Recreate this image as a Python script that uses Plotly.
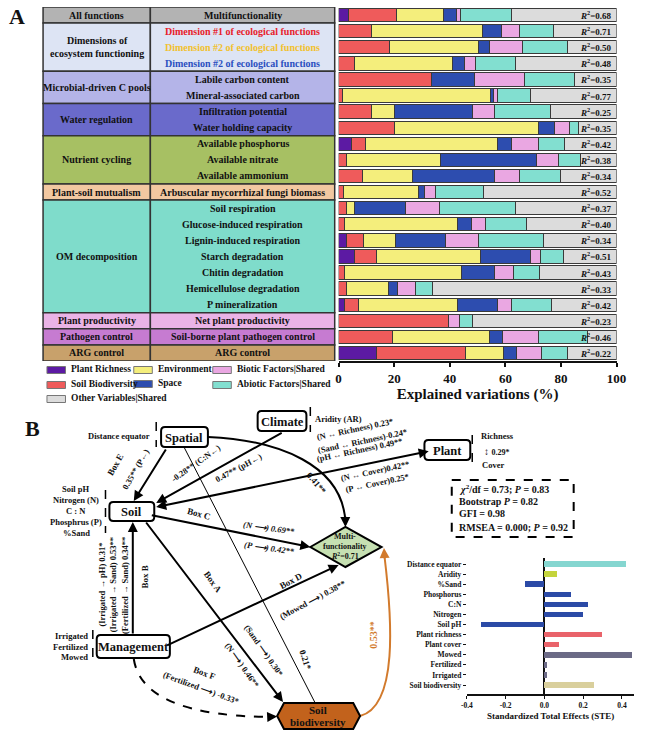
import plotly.graph_objects as go

W, H = 650, 733
FONT = "Liberation Serif"

# ---------------- Panel A data ----------------
functions = ["Multifunctionality", "Dimension #1 of ecological functions",
             "Dimension #2 of ecological functions", "Dimension #2 of ecological functions",
             "Labile carbon content", "Mineral-associated carbon",
             "Infiltration potential", "Water holding capacity",
             "Available phosphorus", "Available nitrate", "Available ammonium",
             "Arbuscular mycorrhizal fungi biomass",
             "Soil respiration", "Glucose-induced respiration", "Lignin-induced respiration",
             "Starch degradation", "Chitin degradation", "Hemicellulose degradation",
             "P mineralization", "Net plant productivity",
             "Soil-borne plant pathogen control", "ARG control"]
function_text_colors = ["#111111", "#e8202a", "#f2c12e", "#2a4fc0"] + ["#111111"] * 18

plant_richness = [3.4, 0, 0, 0, 0, 0, 0, 0, 4.7, 0, 0, 0, 0, 0, 2.9, 5.7, 0, 0, 2.3, 0, 0, 13.7]
soil_biodiversity = [17.5, 11.9, 18.2, 5.7, 33.3, 1.4, 11.9, 20.1, 4.9, 2.7, 8.7, 1.8, 2.9, 2.3, 5.9, 8.0, 2.0, 2.9, 4.7, 39.4, 19.5, 32.1]
environment = [16.8, 39.8, 32.0, 35.2, 0, 53.2, 8.2, 51.7, 47.6, 34.1, 17.8, 27.1, 2.9, 40.4, 11.7, 37.4, 42.3, 15.2, 35.9, 0, 34.9, 13.5]
space = [4.8, 7.0, 4.0, 4.4, 15.5, 1.3, 28.1, 5.9, 5.1, 34.5, 29.6, 2.0, 18.4, 5.0, 18.0, 17.9, 11.7, 3.2, 14.4, 0, 4.7, 4.7]
biotic_shared = [1.5, 6.2, 12.0, 4.1, 18.1, 1.4, 7.9, 5.3, 9.6, 7.9, 8.8, 3.8, 12.1, 5.0, 11.7, 3.7, 7.0, 6.2, 4.9, 4.1, 12.8, 9.0]
abiotic_shared = [18.3, 12.5, 16.3, 14.3, 18.1, 11.7, 20.3, 3.2, 9.4, 7.9, 14.9, 17.3, 27.4, 15.0, 23.5, 8.2, 9.4, 6.1, 14.4, 4.7, 17.5, 9.3]
other_shared = [37.7, 22.6, 17.5, 36.3, 15.0, 31.0, 23.6, 13.8, 18.7, 12.9, 20.2, 48.0, 36.3, 32.3, 26.3, 19.1, 27.6, 66.4, 23.4, 51.8, 10.6, 17.7]
r_squared = ["0.68", "0.71", "0.50", "0.48", "0.35", "0.77", "0.25", "0.35", "0.42", "0.38", "0.34",
             "0.52", "0.37", "0.40", "0.34", "0.51", "0.43", "0.33", "0.42", "0.23", "0.46", "0.22"]

# groups: (left label, first row, last row, fill colour)
groups = [("All functions", 0, 0, "#b3b3b3"),
          ("Dimensions of<br>ecosystem functioning", 1, 3, "#dde4f4"),
          ("Microbial-driven C pools", 4, 5, "#b4b4e8"),
          ("Water regulation", 6, 7, "#6a6acb"),
          ("Nutrient cycling", 8, 10, "#a7c063"),
          ("Plant-soil mutualism", 11, 11, "#f2c8a1"),
          ("OM decomposition", 12, 18, "#7fdccb"),
          ("Plant productivity", 19, 19, "#eab3e6"),
          ("Pathogen control", 20, 20, "#c67bd1"),
          ("ARG control", 21, 21, "#c8a16b")]

series = [("Plant Richness", plant_richness, "#5c1aa3"),
          ("Soil Biodiversity", soil_biodiversity, "#ef5b5b"),
          ("Environment", environment, "#f4ee7c"),
          ("Space", space, "#2d4daf"),
          ("Biotic Factors|Shared", biotic_shared, "#eaa7e2"),
          ("Abiotic Factors|Shared", abiotic_shared, "#82dfd0"),
          ("Other Variables|Shared", other_shared, "#dcdcdc")]

# ---------------- Panel B small bar chart data ----------------
ste_labels = ["Distance equator", "Aridity", "%Sand", "Phosphorus", "C:N", "Nitrogen", "Soil pH",
              "Plant richness", "Plant cover", "Mowed", "Fertilized", "Irrigated", "Soil biodiversity"]
ste_values = [0.422, 0.063, -0.102, 0.138, 0.226, 0.197, -0.328, 0.298, 0.073, 0.451, 0.015, 0.012, 0.257]
ste_colors = ["#85d6d0", "#c4d43c", "#2b4aa6", "#2b4aa6", "#2b4aa6", "#2b4aa6", "#2b4aa6",
              "#e9636a", "#e9636a", "#6b6a86", "#6b6a86", "#6b6a86", "#d9cf9c"]


def px(x):
    return x / W


def py(y):
    return 1 - y / H


fig = go.Figure()

rows = list(range(len(functions)))
for name, vals, col in series:
    fig.add_trace(go.Bar(
        x=[v if v > 0 else None for v in vals], y=rows, orientation="h", name=name,
        marker=dict(color=col, line=dict(color="#3a3a3a", width=1)),
        width=0.83, showlegend=False, hoverinfo="x+name",
        xaxis="x", yaxis="y"))

fig.add_trace(go.Bar(
    x=ste_values, y=list(range(len(ste_labels))), orientation="h",
    marker=dict(color=ste_colors, line=dict(width=0)), width=0.55,
    showlegend=False, xaxis="x2", yaxis="y2"))

shapes = []
ann = []

# R2 labels
for i, r in enumerate(r_squared):
    ann.append(dict(x=99, y=i, xref="x", yref="y", xanchor="right", yanchor="middle",
                    text="<b><i>R</i><sup>2</sup>=" + r + "</b>", showarrow=False,
                    font=dict(family=FONT, size=9, color="#111")))

# table
tx0, tx1, tx2 = 38, 148, 337
for label_, r0, r1, col in groups:
    for a, b in ((tx0, tx1), (tx1, tx2)):
        shapes.append(dict(type="rect", xref="paper", yref="y", x0=px(a), x1=px(b),
                           y0=r0 - 0.5, y1=r1 + 0.5, fillcolor=col,
                           line=dict(color="#333333", width=1.5), layer="above"))
    ann.append(dict(x=px((tx0 + tx1) / 2), y=(r0 + r1) / 2, xref="paper", yref="y",
                    xanchor="center", yanchor="middle",
                    text="<b>" + label_ + "</b>", showarrow=False,
                    font=dict(family=FONT, size=10, color="#111")))
for i, f in enumerate(functions):
    ann.append(dict(x=px((tx1 + tx2) / 2), y=i, xref="paper", yref="y",
                    xanchor="center", yanchor="middle",
                    text="<b>" + f + "</b>", showarrow=False,
                    font=dict(family=FONT, size=10, color=function_text_colors[i])))

# panel labels
ann.append(dict(x=px(11), y=py(17), xref="paper", yref="paper", text="<b>A</b>",
                xanchor="center", yanchor="middle",
                showarrow=False, font=dict(family=FONT, size=22, color="#111")))
ann.append(dict(x=px(27), y=py(429), xref="paper", yref="paper", text="<b>B</b>",
                xanchor="center", yanchor="middle",
                showarrow=False, font=dict(family=FONT, size=22, color="#111")))

# legend (manual)
leg_pos = [(42, 370, 0), (42, 385, 1), (131, 370, 2), (131, 384, 3),
           (212, 370, 4), (212, 385, 5), (42, 399, 6)]
for (lx, ly, k) in leg_pos:
    name, _, col = series[k]
    shapes.append(dict(type="rect", xref="paper", yref="paper", x0=px(lx), x1=px(lx + 19),
                       y0=py(ly - 3.5), y1=py(ly + 3.5), fillcolor=col,
                       line=dict(color="#777777", width=1)))
    ann.append(dict(x=px(lx + 23), y=py(ly - 1), xref="paper", yref="paper", xanchor="left",
                    yanchor="middle",
                    text="<b>" + name + "</b>", showarrow=False,
                    font=dict(family=FONT, size=9.5, color="#111")))


# ---------------- Panel B diagram ----------------
def rrect(x0, y0, x1, y1, r=4):
    X = lambda v: f"{px(v):.5f}"
    Y = lambda v: f"{py(v):.5f}"
    return (f"M{X(x0 + r)},{Y(y0)} L{X(x1 - r)},{Y(y0)} Q{X(x1)},{Y(y0)} {X(x1)},{Y(y0 + r)} "
            f"L{X(x1)},{Y(y1 - r)} Q{X(x1)},{Y(y1)} {X(x1 - r)},{Y(y1)} L{X(x0 + r)},{Y(y1)} "
            f"Q{X(x0)},{Y(y1)} {X(x0)},{Y(y1 - r)} L{X(x0)},{Y(y0 + r)} Q{X(x0)},{Y(y0)} {X(x0 + r)},{Y(y0)} Z")


def poly(points):
    return "M" + " L".join(f"{px(a):.5f},{py(b):.5f}" for a, b in points) + " Z"


def path(cmd):
    out = []
    for t in cmd:
        if isinstance(t, str):
            out.append(t)
        else:
            out.append(f"{px(t[0]):.5f},{py(t[1]):.5f}")
    return " ".join(out)


def arrow(tail, head, width=2, color="#000", side="end", head_style=2, size=1.0):
    ann.append(dict(x=px(head[0]), y=py(head[1]), xref="paper", yref="paper",
                    ax=tail[0] - head[0], ay=tail[1] - head[1], axref="pixel", ayref="pixel",
                    text="", showarrow=True, arrowhead=head_style, startarrowhead=head_style,
                    arrowside=side, arrowwidth=width, arrowsize=size, arrowcolor=color,
                    standoff=0, startstandoff=0))


def label(x, y, text, size=8.5, angle=0, anchor="center", color="#111", italic=False):
    t = "<b>" + text + "</b>"
    if italic:
        t = "<i>" + t + "</i>"
    ann.append(dict(x=px(x), y=py(y), xref="paper", yref="paper", text=t, showarrow=False,
                    textangle=angle, xanchor=anchor, yanchor="middle",
                    font=dict(family=FONT, size=size, color=color)))


def line(p0, p1, width=2, dash="solid", color="#000"):
    shapes.append(dict(type="line", xref="paper", yref="paper", x0=px(p0[0]), y0=py(p0[1]),
                       x1=px(p1[0]), y1=py(p1[1]), line=dict(color=color, width=width, dash=dash)))


# curves
shapes.append(dict(type="path", xref="paper", yref="paper",
                   path=path(["M", (207, 437), "C", (280, 440), (345, 465), (348, 522)]),
                   line=dict(color="#000", width=2)))
arrow((347.8, 515), (348, 527))
shapes.append(dict(type="path", xref="paper", yref="paper",
                   path=path(["M", (131, 659), "Q", (140, 716), (272, 717)]),
                   line=dict(color="#000", width=2, dash="dash")))
arrow((268, 717), (278, 716.5))
shapes.append(dict(type="path", xref="paper", yref="paper",
                   path=path(["M", (363, 716), "C", (402, 706), (396, 620), (388, 556)]),
                   line=dict(color="#d27a2c", width=2)))
arrow((388.3, 560), (387.5, 548), color="#d27a2c")

# straight arrows
arrow((164, 448), (131, 501))
arrow((281, 432), (154, 503))
arrow((428, 451), (154, 507), side="end+start")
line((183, 448), (317, 703), width=1)
arrow((152, 515), (312, 547))
arrow((146, 521), (284, 702))
arrow((130, 635), (130, 522))
arrow((168, 646), (341, 565))

# boxes
for (x0, y0, x1, y1, t, fs) in [(159, 427, 207, 447, "Spatial", 12.5), (258, 411, 308, 431, "Climate", 12.5),
                                (106, 502, 152, 521, "Soil", 12.5), (429, 440, 476, 460, "Plant", 12.5),
                                (93, 635, 168, 658, "Management", 12.5)]:
    shapes.append(dict(type="path", xref="paper", yref="paper", path=rrect(x0, y0, x1, y1),
                       fillcolor="white", line=dict(color="#000", width=2)))
    label((x0 + x1) / 2, (y0 + y1) / 2 + 0.5, t, size=fs)

shapes.append(dict(type="path", xref="paper", yref="paper",
                   path=poly([(312, 547), (348, 527), (385, 547), (348, 567)]),
                   fillcolor="#c6e0b2", line=dict(color="#000", width=2)))
label(348, 536, "Multi-", size=8)
label(348, 546, "functionality", size=8)
label(348, 556, "<i>R</i><sup>2</sup>=0.71", size=8)

shapes.append(dict(type="path", xref="paper", yref="paper",
                   path=poly([(278, 716), (285, 703), (356, 703), (363, 716), (356, 729), (285, 729)]),
                   fillcolor="#c2621c", line=dict(color="#000", width=2)))
label(320, 710, "Soil", size=11)
label(320, 722, "biodiversity", size=11)

# dashed side markers
for (x, y0, y1) in [(154, 422, 447), (312, 407, 432), (102, 490, 533), (478, 435, 462), (89, 630, 660)]:
    line((x, y0), (x, y1), width=1.5, dash="dash")

# side texts
label(150, 436, "Distance equator", size=8.5, anchor="right")
label(315, 419, "Aridity (AR)", size=8.5, anchor="left")
for j, t in enumerate(["Soil pH", "Nitrogen (N)", "C : N", "Phosphrus (P)", "%Sand"]):
    label(72, 489 + j * 11, t, size=8.5)
for j, t in enumerate(["Irrigated", "Fertilized", "Mowed"]):
    label(86, 636 + j * 10.5, t, size=8.5, anchor="right")
label(485, 436, "Richness", size=8.5, anchor="left")
label(488, 451, "↕ <span style='font-size:8px'>0.29*</span>", size=10, anchor="left")
label(486, 465, "Cover", size=8.5, anchor="left")

# fit box
shapes.append(dict(type="rect", xref="paper", yref="paper", x0=px(457), x1=px(582),
                   y0=py(480), y1=py(537), line=dict(color="#000", width=2, dash="dash")))
label(462, 489, "<i>χ</i><sup>2</sup>/df = 0.73; <i>P</i> = 0.83", size=10, anchor="left")
label(462, 501, "Bootstrap <i>P</i> = 0.82", size=10, anchor="left")
label(462, 513, "GFI = 0.98", size=10, anchor="left")
label(462, 527, "RMSEA = 0.000; <i>P</i> = 0.92", size=10, anchor="left")

# path labels
label(112, 465, "Box E", size=9, angle=-60)
label(133, 469, "0.35** (P←)", size=8.5, angle=-60)
label(195, 463, "-0.28** (C:N←)", size=8.5, angle=-35)
label(238, 468, "0.47** (pH←)", size=8.5, angle=-28)
label(358, 429, "(N ↔ Richness) 0.23*", size=8.5, angle=-12)
label(365, 441, "(Sand ↔ Richness)-0.24*", size=8.5, angle=-12)
label(362, 450, "(pH ↔ Richness) 0.49**", size=8.5, angle=-12)
label(378, 471, "(N ↔ Cover)0.42**", size=8.5, angle=-12)
label(380, 483, "(P ↔ Cover)0.25*", size=8.5, angle=-12)
label(318, 483, "0.41**", size=9, angle=50)
label(198, 514, "Box C", size=9, angle=15)
label(270, 528, "(N ⟶) 0.69**", size=8.5, angle=8, italic=True)
label(270, 548, "(P ⟶) 0.42**", size=8.5, angle=8, italic=True)
label(212, 582, "Box A", size=9, angle=55)
label(242, 665, "(N ⟶) 0.46**", size=8.5, angle=55)
label(264, 650, "(Sand ⟶) 0.30*", size=8.5, angle=55)
label(307, 660, "0.21*", size=9, angle=72)
label(292, 581, "Box D", size=9, angle=-28)
label(314, 600, "(Mowed ⟶) 0.38**", size=8.5, angle=-28)
label(143, 577, "Box B", size=9, angle=-90)
label(98, 585, "(Irrigated → pH) 0.31*", size=8.5, angle=-90)
label(110, 585, "(Irrigated → Sand) 0.53**", size=8.5, angle=-90)
label(122, 585, "(Fertilized → Sand) 0.34**", size=8.5, angle=-90)
label(203, 673, "Box F", size=9, angle=20)
label(200, 688, "(Fertilized ⟶) -0.33*", size=8.5, angle=20)
label(376, 635, "0.53**", size=10, angle=-90, color="#d27a2c")

fig.update_layout(
    width=W, height=H, autosize=False, margin=dict(l=0, r=0, t=0, b=0),
    paper_bgcolor="white", plot_bgcolor="rgba(0,0,0,0)",
    barmode="stack", bargap=0.17,
    font=dict(family=FONT, color="#111"),
    shapes=shapes, annotations=ann,
    xaxis=dict(domain=[px(341), px(626)], range=[0, 100], tickvals=[0, 20, 40, 60, 80, 100],
               ticktext=["<b>%d</b>" % v for v in [0, 20, 40, 60, 80, 100]],
               showline=True, linecolor="#111", linewidth=2, ticks="outside", ticklen=4,
               tickwidth=2, tickcolor="#111", showgrid=False, zeroline=False,
               tickfont=dict(family=FONT, size=13, color="#111"),
               title=dict(text="<b>Explained variations (%)</b>", standoff=2,
                          font=dict(family=FONT, size=15, color="#111")),
               anchor="y"),
    yaxis=dict(domain=[py(361), py(7)], range=[21.5, -0.5], visible=False, anchor="x"),
    xaxis2=dict(domain=[px(472.5), px(644)], range=[-0.4, 0.463], tickvals=[-0.4, -0.2, 0.0, 0.2, 0.4],
                ticktext=["<b>-0.4</b>", "<b>-0.2</b>", "<b>0.0</b>", "<b>0.2</b>", "<b>0.4</b>"],
                showline=True, linecolor="#111", linewidth=1.5, ticks="outside", ticklen=3,
                tickcolor="#111", showgrid=False, zeroline=True, zerolinecolor="#111",
                zerolinewidth=1.5, tickfont=dict(family=FONT, size=7.5, color="#111"),
                title=dict(text="<b>Standardized Total Effects (STE)</b>", standoff=4,
                           font=dict(family=FONT, size=9, color="#111")),
                anchor="y2"),
    yaxis2=dict(domain=[py(694), py(558)], range=[12.89, -0.6], tickmode="array",
                tickvals=list(range(len(ste_labels))),
                ticktext=["<b>" + s + "</b>" for s in ste_labels],
                showline=False, ticks="outside", ticklen=3, tickcolor="#111", showgrid=False,
                zeroline=False, tickfont=dict(family=FONT, size=7.5, color="#111"), anchor="x2"),
)

fig.write_html("out.html",
               config={"displayModeBar": False, "responsive": False},
               post_script="document.body.style.margin='0';document.body.style.overflow='hidden';")
